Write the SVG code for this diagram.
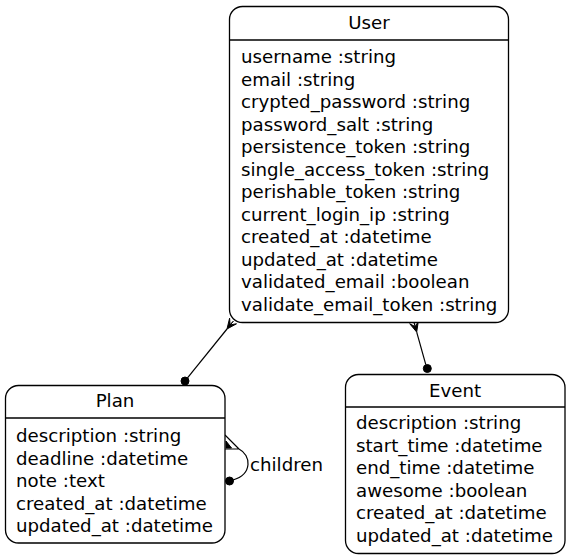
<svg xmlns="http://www.w3.org/2000/svg" width="569" height="560" viewBox="0 0 569 560">
<style>
  .box{fill:#fff;stroke:#000;stroke-width:1.3}
  .sep{stroke:#000;stroke-width:1.3}
  text{font-family:"DejaVu Sans",sans-serif;font-size:18.2px;fill:#000}
  .title{text-anchor:middle}
  .edge{fill:none;stroke:#000;stroke-width:1.2}
  .head{fill:#000;stroke:#000;stroke-width:1}
</style>
<rect width="569" height="560" fill="#fff"/>
<g id="connectors">
  <path class="edge" d="M187.5,377.9 L227,329"/>
  <polygon class="head" points="227,329 236.5,323.8 230.1,324.9 233.3,321.2 230.1,324.9 229.6,318.2"/>
  <circle class="head" cx="185" cy="381" r="4"/>
  <path class="edge" d="M425.8,364.6 L416.7,332.1"/>
  <polygon class="head" points="416.7,332.1 418.3,321.3 415.4,326.8 414,322.5 415.4,326.8 409.7,323.7"/>
  <circle class="head" cx="427.3" cy="368.5" r="4"/>
  <path class="edge" d="M225,435 L239,449 M221,449 L239,449 C251,455 253,474 233,480"/>
  <polygon class="head" points="226,441 231.5,448 226,448"/>
  <circle class="head" cx="229.5" cy="481" r="4"/>
  <text x="250" y="471">children</text>
</g>
<g id="User">
  <rect class="box" x="229.5" y="6.5" width="279" height="316" rx="13"/>
  <line class="sep" x1="229.5" y1="40" x2="508.5" y2="40"/>
  <text class="title" x="369" y="29">User</text>
  <text x="241" y="63">username :string</text>
  <text x="241" y="85.5">email :string</text>
  <text x="241" y="108">crypted_password :string</text>
  <text x="241" y="130.5">password_salt :string</text>
  <text x="241" y="153">persistence_token :string</text>
  <text x="241" y="175.5">single_access_token :string</text>
  <text x="241" y="198">perishable_token :string</text>
  <text x="241" y="220.5">current_login_ip :string</text>
  <text x="241" y="243">created_at :datetime</text>
  <text x="241" y="265.5">updated_at :datetime</text>
  <text x="241" y="288">validated_email :boolean</text>
  <text x="241" y="310.5">validate_email_token :string</text>
</g>
<g id="Plan">
  <rect class="box" x="5.5" y="385.5" width="219.5" height="157.5" rx="13"/>
  <line class="sep" x1="5.5" y1="418" x2="225" y2="418"/>
  <text class="title" x="115" y="407">Plan</text>
  <text x="16" y="442">description :string</text>
  <text x="16" y="464.5">deadline :datetime</text>
  <text x="16" y="487">note :text</text>
  <text x="16" y="509.5">created_at :datetime</text>
  <text x="16" y="532">updated_at :datetime</text>
</g>
<g id="Event">
  <rect class="box" x="345.5" y="374.5" width="219.5" height="179" rx="13"/>
  <line class="sep" x1="345.5" y1="407" x2="565" y2="407"/>
  <text class="title" x="455" y="397">Event</text>
  <text x="356" y="429">description :string</text>
  <text x="356" y="451.6">start_time :datetime</text>
  <text x="356" y="474.2">end_time :datetime</text>
  <text x="356" y="496.8">awesome :boolean</text>
  <text x="356" y="519.4">created_at :datetime</text>
  <text x="356" y="542">updated_at :datetime</text>
</g>
</svg>
